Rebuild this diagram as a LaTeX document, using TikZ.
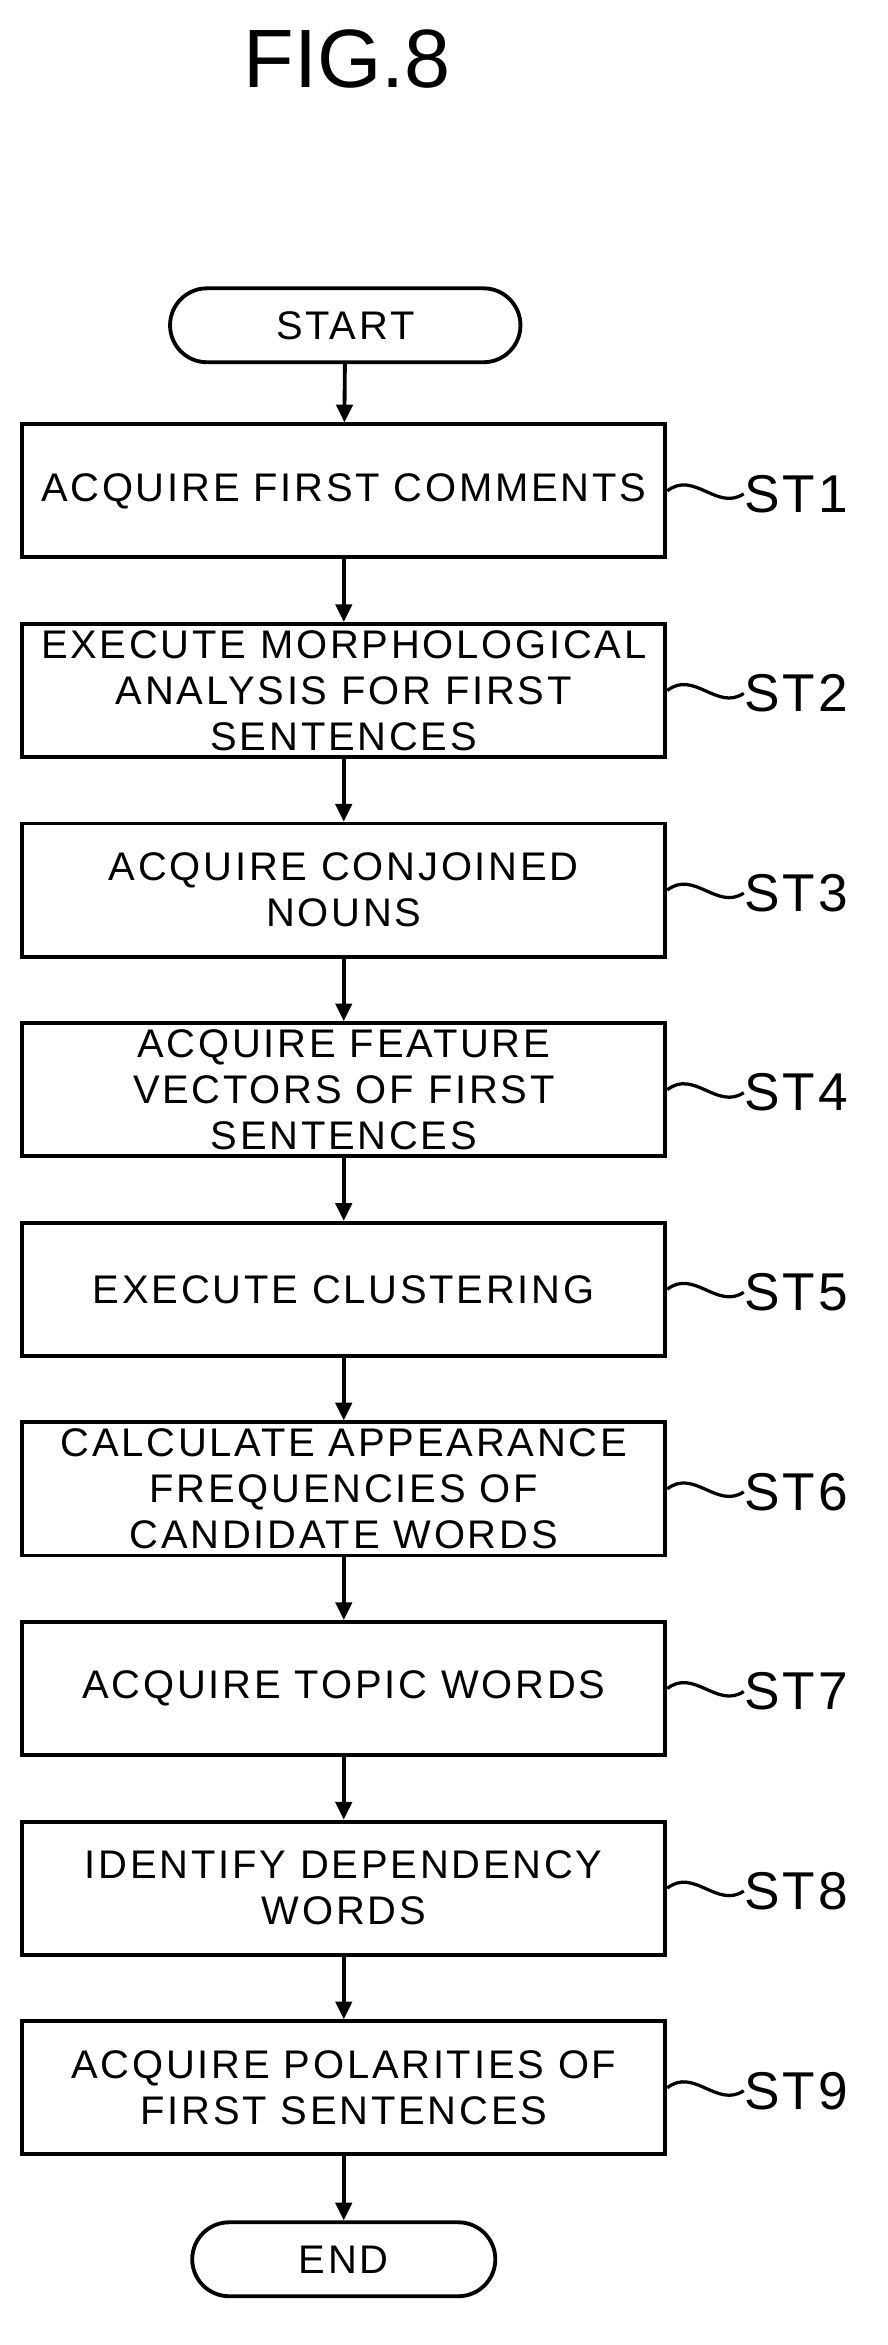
\documentclass[tikz,border=0pt]{standalone}
\usepackage{fontspec}
\setmainfont{Liberation Sans}
\newfontfamily\boxfont[LetterSpace=7]{Liberation Sans}
\newfontfamily\labfont[LetterSpace=6]{Liberation Sans}
\usetikzlibrary{arrows.meta}
\begin{document}
\begin{tikzpicture}[x=1pt,y=-1pt,
 box/.style={draw,line width=2.6pt,minimum width=435pt,minimum height=90pt,align=center,font=\boxfont\fontsize{27}{31}\selectfont,inner sep=0pt},
 term/.style={draw,line width=2.6pt,rounded corners=25pt,minimum height=50pt,font=\boxfont\fontsize{27}{31}\selectfont},
 lab/.style={font=\labfont\fontsize{36}{38}\selectfont,anchor=west,inner sep=0pt},
 arr/.style={line width=2.6pt,-{Triangle[length=12pt,width=11pt]}},
 wave/.style={line width=2.2pt}]
\useasboundingbox (0,0) rectangle (600,1586);
\node (title) at (235,40) {\fontsize{56}{60}\selectfont FIG.8};
\node[term,minimum width=237pt] (start) at (233.5,220) {START};
\foreach \i/\t [count=\k from 0] in {1/{ACQUIRE FIRST COMMENTS},2/{EXECUTE MORPHOLOGICAL\\ANALYSIS FOR FIRST\\SENTENCES},3/{ACQUIRE CONJOINED\\NOUNS},4/{ACQUIRE FEATURE\\VECTORS OF FIRST\\SENTENCES},5/{EXECUTE CLUSTERING},6/{CALCULATE APPEARANCE\\FREQUENCIES OF\\CANDIDATE WORDS},7/{ACQUIRE TOPIC WORDS},8/{IDENTIFY DEPENDENCY\\WORDS},9/{ACQUIRE POLARITIES OF\\FIRST SENTENCES}}{
 \node[box] (s\i) at (232.5,{332+135*\k}) {\t};
 \node[lab] (l\i) at (503,{334+135*\k}) {ST\i};
 \draw[wave] (s\i.east) .. controls ++(18,-14) and ++(-18,12) .. (l\i.west);
}
\node[term,minimum width=205pt] (end) at (232.5,1528) {END};
\draw[arr] (start) -- (s1);
\foreach \a/\b in {1/2,2/3,3/4,4/5,5/6,6/7,7/8,8/9}{\draw[arr] (s\a) -- (s\b);}
\draw[arr] (s9) -- (end);
\end{tikzpicture}
\end{document}
